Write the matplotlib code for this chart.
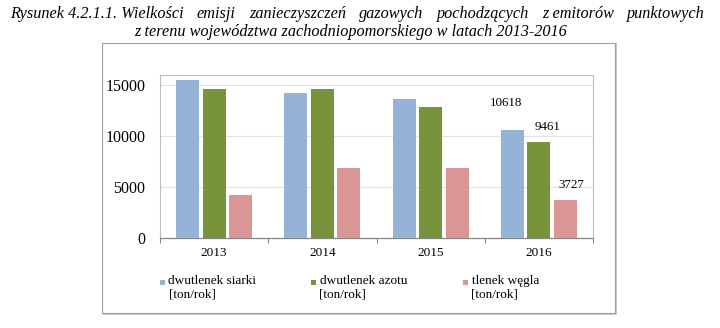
import numpy as np
import matplotlib.pyplot as plt
from matplotlib.patches import Rectangle

lata = ['2013', '2014', '2015', '2016']
so2 = [15490, 14280, 13660, 10618]
nox = [14610, 14610, 12880, 9461]
co = [4260, 6880, 6880, 3727]
nazwy = ['dwutlenek siarki\n[ton/rok]', 'dwutlenek azotu\n[ton/rok]', 'tlenek węgla\n[ton/rok]']
kolory = ['#95b3d7', '#77933c', '#d99694']

# opisy wartosci tylko dla 2016 (przesuniecia w pikselach)
przes_opisow = [(-6, 27), (9, 15), (6, 15)]

plt.rcParams['font.family'] = ['Liberation Serif', 'DejaVu Serif']

fig = plt.figure(figsize=(7.2, 3.28), dpi=100)
W, H = 720, 328

# ramka wokol wykresu
fig.patches.append(Rectangle((103 / W, 1 - 315 / H), 514 / W, 272 / H, transform=fig.transFigure,
                             facecolor='#c8c8c8', edgecolor='none', zorder=0))
fig.patches.append(Rectangle((102 / W, 1 - 313 / H), 513 / W, 270 / H, transform=fig.transFigure,
                             facecolor='white', edgecolor='#a0a0a0', lw=0.8, zorder=1))

ax = fig.add_axes([160 / W, 1 - 238.3 / H, 433 / W, 163.3 / H])
ax.set_zorder(2)

x = np.arange(len(lata))
szer = 0.2125
krok = 0.245
serie = [so2, nox, co]
slupki = []
for i, (wart, kol) in enumerate(zip(serie, kolory)):
    b = ax.bar(x + (i - 1) * krok, wart, width=szer, color=kol, zorder=3)
    slupki.append(b)

# etykiety wartosci dla ostatniego roku
for i, wart in enumerate(serie):
    prost = slupki[i][-1]
    dx, dy = przes_opisow[i]
    ax.annotate(f'{wart[-1]}', (prost.get_x() + prost.get_width() / 2, wart[-1]),
                xytext=(dx * 0.72, dy * 0.72), textcoords='offset points',
                ha='center', va='center', fontsize=9.4)

ax.set_xlim(-0.5, 3.5)
ax.set_ylim(0, 16000)
ax.set_yticks([0, 5000, 10000, 15000])
ax.tick_params(axis='y', length=0, pad=10.5, labelsize=11.5)
ax.yaxis.grid(True, color='#e3e3e3', lw=0.8, zorder=0)

ax.set_xticks(np.arange(-0.5, 4, 1))
ax.set_xticklabels([])
ax.set_xticks(x, minor=True)
ax.set_xticklabels(lata, minor=True)
ax.tick_params(axis='x', which='major', direction='out', length=3.6, width=0.8, color='#868686')
ax.tick_params(axis='x', which='minor', length=0, pad=6.5, labelsize=9.5)

for s in ['top', 'left', 'right']:
    ax.spines[s].set_color('#bdbdbd')
    ax.spines[s].set_linewidth(0.8)
ax.spines['bottom'].set_color('#868686')
ax.spines['bottom'].set_linewidth(0.9)

# legenda pod wykresem
leg_x = [162, 313, 465]
for lx, nazwa, kol in zip(leg_x, nazwy, kolory):
    fig.patches.append(Rectangle(((lx - 2.5) / W, 1 - 284.5 / H), 5 / W, 5 / H,
                                 transform=fig.transFigure, facecolor=kol, edgecolor='none', zorder=3))
    fig.text((lx + 6.5) / W, 1 - 275 / H, nazwa, ha='left', va='top', fontsize=9.5,
             linespacing=1.13, zorder=3)

# tytul - pierwszy wiersz wyjustowany
fs_t = 11.7
slowa = ['Rysunek 4.2.1.1. Wielkości', 'emisji', 'zanieczyszczeń', 'gazowych',
         'pochodzących', 'z emitorów', 'punktowych']
lewo, prawo = 10, 705
teksty = [fig.text(0, 1 - 14 / H, s, fontsize=fs_t, style='italic', va='center', ha='left')
          for s in slowa]
fig.canvas.draw()
r = fig.canvas.get_renderer()
szer_sl = [t.get_window_extent(r).width for t in teksty]
odstep = (prawo - lewo - sum(szer_sl)) / (len(slowa) - 1)
pos = lewo
for t, w in zip(teksty, szer_sl):
    t.set_x(pos / W)
    pos += w + odstep
fig.text(350.5 / W, 1 - 32 / H, 'z terenu województwa zachodniopomorskiego w latach 2013-2016',
         fontsize=fs_t, style='italic', va='center', ha='center')

fig.savefig('out.png', dpi=100)
